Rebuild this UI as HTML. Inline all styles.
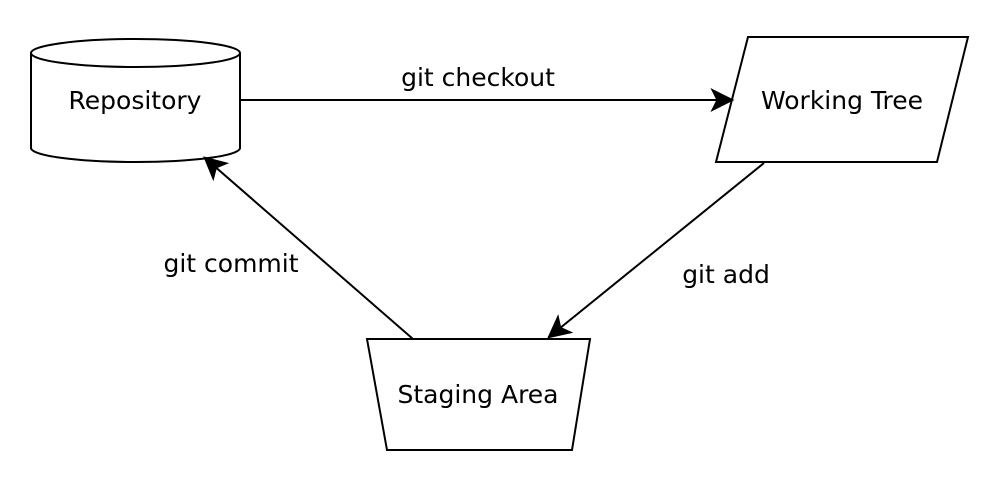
<!DOCTYPE html>
<html><head><style>html,body{margin:0;padding:0;background:#fff}svg{display:block}</style></head>
<body>
<svg width="1000" height="482" viewBox="0 0 1000 482" xmlns="http://www.w3.org/2000/svg" font-family="DejaVu Sans, sans-serif" font-size="25">
<defs><marker id="a" viewBox="0 0 20 20" refX="18" refY="10" markerWidth="26" markerHeight="24" markerUnits="userSpaceOnUse" orient="auto"><path d="M0,0 L20,10 L0,20 L5,10 Z" fill="#000"/></marker></defs>
<g fill="#fff" stroke="#000" stroke-width="2">
<path d="M31,53 L31,148 A104.5,14 0 0 0 240,148 L240,53"/>
<ellipse cx="135.5" cy="53" rx="104.5" ry="14"/>
<polygon points="748,37 968,37 937,162 716,162"/>
<polygon points="367,339 590,339 572,450 387,450"/>
</g>
<g stroke="#000" stroke-width="2" fill="none">
<line x1="241" y1="100" x2="732" y2="100" marker-end="url(#a)"/>
<line x1="764" y1="163" x2="549" y2="337" marker-end="url(#a)"/>
<line x1="413" y1="339" x2="205" y2="158" marker-end="url(#a)"/>
</g>
<g fill="#000" text-anchor="middle">
<text x="135" y="109">Repository</text>
<text x="842" y="109">Working Tree</text>
<text x="478" y="403">Staging Area</text>
<text x="478" y="86">git checkout</text>
<text x="231" y="272">git commit</text>
<text x="726" y="283">git add</text>
</g>
</svg>
</body></html>
